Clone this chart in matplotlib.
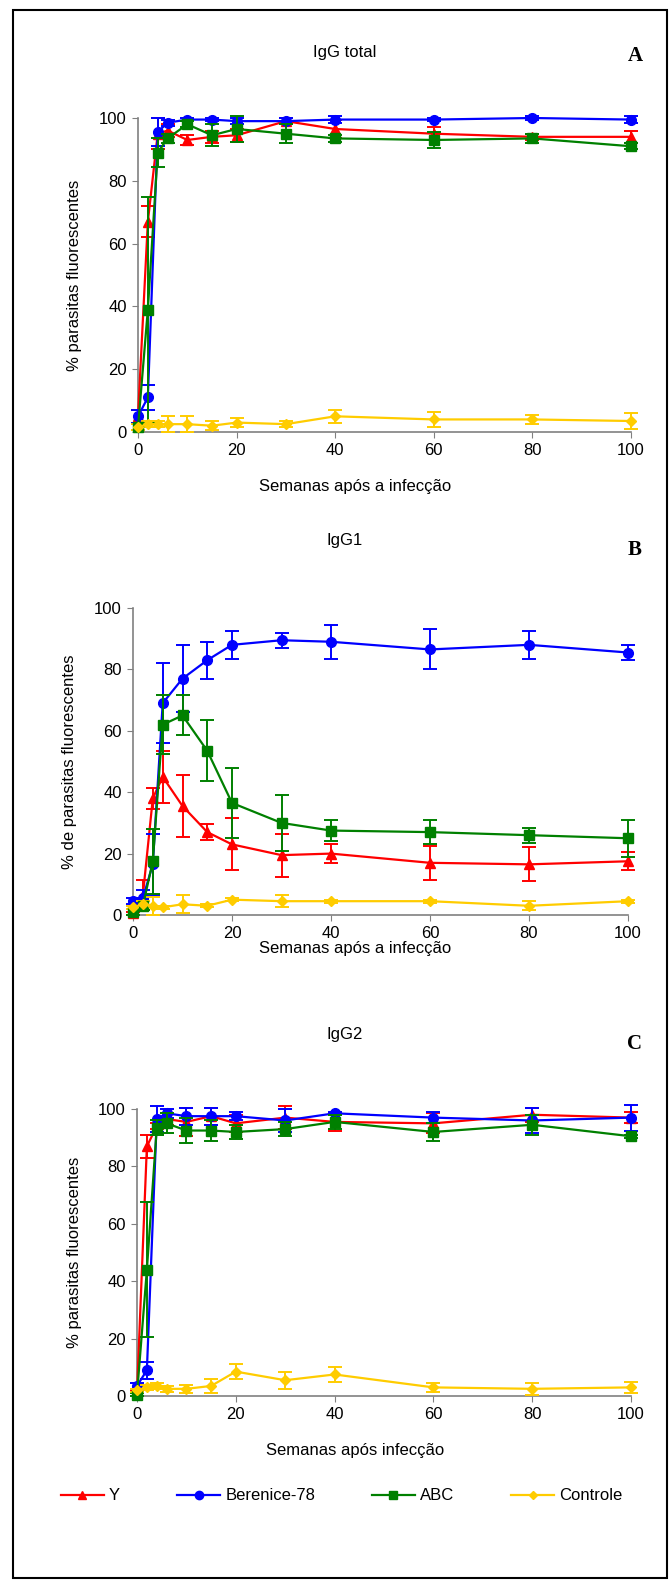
import numpy as np
import matplotlib.pyplot as plt
from matplotlib.patches import Rectangle
from matplotlib.lines import Line2D

plt.rcParams['font.family'] = ['Liberation Sans', 'DejaVu Sans']

# weeks after infection
weeks = [0, 2, 4, 6, 10, 15, 20, 30, 40, 60, 80, 100]

# IgG total
a_y = [5, 67, 95, 96, 93, 94, 94.5, 99, 96.5, 95, 94, 94]
a_y_err = [2, 5, 5, 2, 1.5, 2, 2, 1, 3, 2, 1, 2]
a_ber = [5, 11, 95.5, 98.5, 99.5, 99.5, 99, 99, 99.5, 99.5, 100, 99.5]
a_ber_err = [2, 4, 4.5, 1, 0.5, 0.5, 1, 1, 1, 0.5, 0.5, 1]
a_abc = [1.5, 39, 89, 93.5, 98, 94.5, 96.5, 95, 93.5, 93, 93.5, 91]
a_abc_err = [1, 36, 4.5, 1.5, 1, 3.5, 4, 3, 1, 2.5, 1.5, 1]
a_ctl = [1.5, 2.5, 2.5, 2.5, 2.5, 2, 3, 2.5, 5, 4, 4, 3.5]
a_ctl_err = [1, 1, 1, 2.5, 2.5, 1.5, 1.5, 1, 2, 2.5, 1.5, 2.5]

# IgG1
b_y = [0.5, 6.5, 38, 45, 35.5, 27, 23, 19.5, 20, 17, 16.5, 17.5]
b_y_err = [0.5, 5, 3.5, 8.5, 10, 2.5, 8.5, 7, 3, 5.5, 5.5, 3]
b_ber = [4.5, 5.5, 16.5, 69, 77, 83, 88, 89.5, 89, 86.5, 88, 85.5]
b_ber_err = [1, 2.5, 10, 13, 11, 6, 4.5, 2.5, 5.5, 6.5, 4.5, 2.5]
b_abc = [1, 3, 17.5, 62, 65, 53.5, 36.5, 30, 27.5, 27, 26, 25]
b_abc_err = [1, 1.5, 10.5, 9.5, 6.5, 10, 11.5, 9, 3.5, 4, 2.5, 6]
b_ctl = [2.5, 3.5, 3, 2.5, 3.5, 3, 5, 4.5, 4.5, 4.5, 3, 4.5]
b_ctl_err = [0.5, 1, 3, 0.5, 3, 0.5, 0.5, 2, 0.5, 0.5, 1.5, 0.5]

# IgG2
c_y = [1, 87, 94, 96.5, 95.5, 97.5, 95, 97, 95.5, 95, 98, 97]
c_y_err = [1, 4, 1, 2, 5, 3, 3, 4, 3, 3.5, 2.5, 2]
c_ber = [3.5, 9, 96.5, 98.5, 97.5, 97.5, 97.5, 96, 98.5, 97, 96, 97]
c_ber_err = [1, 3, 4.5, 1.5, 3, 3, 1.5, 4, 0.5, 2, 4.5, 4.5]
c_abc = [0.5, 44, 93.5, 95, 92.5, 92.5, 92, 93, 95.5, 92, 94.5, 90.5]
c_abc_err = [0.5, 23.5, 2.5, 3.5, 4.5, 3.5, 2.5, 2.5, 2.5, 3, 3.5, 0.5]
c_ctl = [2, 3, 3.5, 2.5, 2.5, 3.5, 8.5, 5.5, 7.5, 3, 2.5, 3]
c_ctl_err = [0.5, 1, 1, 1, 1.5, 2.5, 2.5, 3, 2.5, 1.5, 2, 2]

series_names = ['Y', 'Berenice-78', 'ABC', 'Controle']
colors = ['#FF0000', '#0000FF', '#008000', '#FFCC00']
markers = ['^', 'o', 's', 'D']
msizes = [7, 7, 6.5, 5]

W, H = 670, 1581
fig = plt.figure(figsize=(W / 100, H / 100), dpi=100)


def frac(x0, y0, x1, y1):
    # pixel box (top-left origin) -> figure fraction rect
    return [x0 / W, 1 - y1 / H, (x1 - x0) / W, (y1 - y0) / H]


def panel(rect, data, title, letter, title_y, letter_y, xlabel, xlabel_y, ylabel, ylabel_x):
    ax = fig.add_axes(rect)
    for k, (vals, errs) in enumerate(data):
        ax.errorbar(weeks, vals, yerr=errs, color=colors[k], marker=markers[k],
                    markersize=msizes[k], lw=1.6, elinewidth=1.4, capsize=5,
                    capthick=1.4, clip_on=False, zorder=3 + k * 0.1)
    ax.set_xlim(0, 100)
    ax.set_ylim(0, 100)
    ax.set_xticks(range(0, 101, 20))
    ax.set_yticks(range(0, 101, 20))
    for s in ['top', 'right']:
        ax.spines[s].set_visible(False)
    ax.spines['left'].set_color('#808080')
    ax.spines['bottom'].set_color('#808080')
    ax.spines['left'].set_linewidth(1.2)
    ax.spines['bottom'].set_linewidth(1.2)
    ax.tick_params(axis='both', direction='out', length=4, color='#808080',
                   labelsize=12, pad=4)
    ax.set_ylabel(ylabel, fontsize=12)
    bbox = ax.get_position()
    ax.yaxis.set_label_coords(ylabel_x / W, (bbox.y0 + bbox.y1) / 2,
                              transform=fig.transFigure)
    fig.text(0.515, 1 - title_y / H, title, ha='center', va='center', fontsize=12)
    fig.text(635 / W, 1 - letter_y / H, letter, ha='center', va='center',
             fontsize=15, fontweight='bold', family='Liberation Serif')
    fig.text(0.53, 1 - xlabel_y / H, xlabel, ha='center', va='center', fontsize=12)
    return ax


ax_a = panel(frac(138, 118, 631, 432),
             [(a_y, a_y_err), (a_ber, a_ber_err), (a_abc, a_abc_err), (a_ctl, a_ctl_err)],
             'IgG total', 'A', 52, 56, 'Semanas após a infecção', 487,
             '% parasitas fluorescentes', 82)
ax_b = panel(frac(133, 608, 628, 915),
             [(b_y, b_y_err), (b_ber, b_ber_err), (b_abc, b_abc_err), (b_ctl, b_ctl_err)],
             'IgG1', 'B', 541, 550, 'Semanas após a infecção', 948,
             '% de parasitas fluorescentes', 77)
ax_c = panel(frac(137, 1109, 631, 1396),
             [(c_y, c_y_err), (c_ber, c_ber_err), (c_abc, c_abc_err), (c_ctl, c_ctl_err)],
             'IgG2', 'C', 1034, 1044, 'Semanas após infecção', 1450,
             '% parasitas fluorescentes', 82)

# legend
handles = [Line2D([0], [0], color=colors[k], marker=markers[k], markersize=msizes[k] - 1,
                  lw=1.6) for k in range(4)]
fig.legend(handles, series_names, loc='center', bbox_to_anchor=(0.51, 1 - 1496 / H),
           ncol=4, frameon=False, fontsize=12, handlelength=2.6, columnspacing=3.4,
           handletextpad=0.3)

# outer frame
fig.patches.append(Rectangle((13 / W, 1 - 1578 / H), 654 / W, 1568 / H,
                             transform=fig.transFigure, fill=False, edgecolor='black',
                             lw=1.5))

fig.savefig('out.png', dpi=100)
